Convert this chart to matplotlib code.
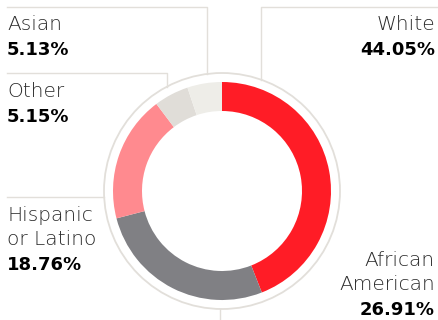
import numpy as np
import matplotlib.pyplot as plt
from matplotlib.patches import Circle

groups = ['White', 'African\nAmerican', 'Hispanic\nor Latino', 'Other', 'Asian']
shares = [44.05, 26.91, 18.76, 5.15, 5.13]
colors = ['#ff1c26', '#808084', '#ff8a8f', '#e0ddd8', '#eeede8']

W, H = 438, 320
line_col = '#e2dfda'

fig = plt.figure(figsize=(W / 100, H / 100), dpi=100)
ax = fig.add_axes([0, 0, 1, 1])

cx, cy = 222, H - 191
r_ring, r_hole, r_outer = 109, 80, 118

ax.pie(shares, colors=colors, startangle=90, counterclock=False,
       center=(cx, cy), radius=r_ring,
       wedgeprops=dict(width=r_ring - r_hole, linewidth=0))
ax.add_patch(Circle((cx, cy), r_outer, fill=False, edgecolor=line_col, lw=1.3))


def circle_y_top(x):
    return cy + np.sqrt(r_outer ** 2 - (x - cx) ** 2)


def circle_x_left(y):
    return cx - np.sqrt(r_outer ** 2 - (y - cy) ** 2)


# leader lines
y1 = H - 7
ax.plot([7, 207, 207], [y1, y1, circle_y_top(207)], color=line_col, lw=1)
ax.plot([438, 261, 261], [y1, y1, circle_y_top(261)], color=line_col, lw=1)
y2 = H - 73
ax.plot([7, 167, 167], [y2, y2, circle_y_top(167)], color=line_col, lw=1)
y3 = H - 197
ax.plot([7, circle_x_left(y3)], [y3, y3], color=line_col, lw=1)
ax.plot([220, 220], [cy - r_outer, 0], color=line_col, lw=1)

name_kw = dict(fontsize=14.5, color='#2a2a2a', fontweight='light', family='DejaVu Sans')
pct_kw = dict(fontsize=13, color='black', fontweight='bold', family='DejaVu Sans')

# (x, baseline of first line, alignment) in pixel coords
spots = {
    'White': (435, 30, 'right'),
    'African\nAmerican': (435, 266, 'right'),
    'Hispanic\nor Latino': (7, 221, 'left'),
    'Other': (7, 97, 'left'),
    'Asian': (7, 30, 'left'),
}
step = 24
for g, s in zip(groups, shares):
    x, yb, ha = spots[g]
    lines = g.split('\n')
    for i, ln in enumerate(lines):
        ax.text(x, H - (yb + i * step), ln, ha=ha, va='baseline', **name_kw)
    ax.text(x, H - (yb + len(lines) * step + 1), f'{s:.2f}%', ha=ha, va='baseline', **pct_kw)

ax.set_xlim(0, W)
ax.set_ylim(0, H)
ax.set_aspect('auto')
ax.axis('off')

fig.savefig('out.png', dpi=100)
